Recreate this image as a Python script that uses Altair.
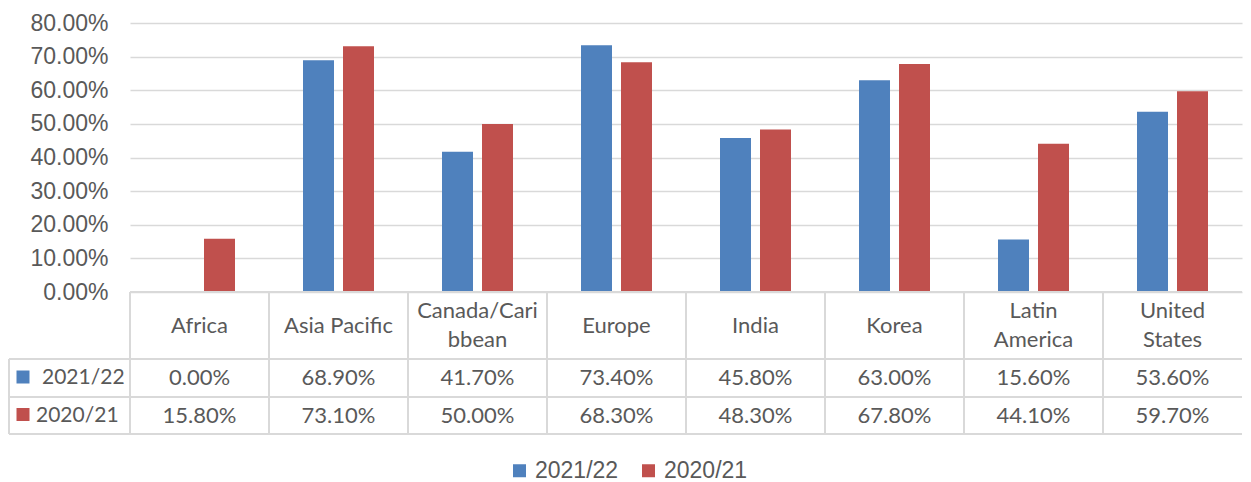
import altair as alt
import pandas as pd

categories = ["Africa", "Asia Pacific", "Canada/Caribbean", "Europe", "India",
              "Korea", "Latin America", "United States"]
header_labels = ["Africa", "Asia Pacific", "Canada/Cari\nbbean", "Europe", "India",
                 "Korea", "Latin\nAmerica", "United\nStates"]
series = ["2021/22", "2020/21"]
values_2122 = [0.00, 68.90, 41.70, 73.40, 45.80, 63.00, 15.60, 53.60]
values_2021 = [15.80, 73.10, 50.00, 68.30, 48.30, 67.80, 44.10, 59.70]
y_ticks = [0.0, 0.1, 0.2, 0.3, 0.4, 0.5, 0.6, 0.7, 0.8]
colors = ["#4F81BD", "#C0504D"]

TEXT = "#595959"
GRID = "#D9D9D9"
W = 1112
H = 411

rows = []
for s, vals in zip(series, [values_2122, values_2021]):
    for c, v in zip(categories, vals):
        rows.append({"category": c, "series": s, "value": v / 100.0,
                     "label": f"{v:.2f}%"})
df = pd.DataFrame(rows)
hdr = pd.DataFrame({"category": categories, "header": header_labels})
leg = pd.DataFrame({"series": series})

xscale = alt.Scale(domain=categories, paddingInner=0, paddingOuter=0)
yscale = alt.Scale(domain=[-0.4223, 0.8], nice=False, zero=False)
color = alt.Color("series:N", scale=alt.Scale(domain=series, range=colors),
                  legend=alt.Legend(title=None, orient="none", legendX=378, legendY=436,
                                    direction="horizontal", symbolType="square",
                                    symbolSize=169, symbolStrokeWidth=0,
                                    labelFont="Liberation Sans", labelFontSize=23,
                                    labelColor=TEXT, labelOffset=4, columnPadding=18,
                                    padding=0))
yaxis = alt.Axis(values=y_ticks, format=".2%", title=None, domain=False,
                 ticks=False, tickSize=0, labelPadding=22,
                 labelFont="Liberation Sans", labelFontSize=23,
                 labelColor=TEXT, grid=True, gridColor=GRID, gridWidth=1.5)

bar_layers = []
for s, off in zip(series, [-20, 20]):
    bar_layers.append(
        alt.Chart(df).transform_filter(alt.datum.series == s)
        .mark_bar(width=31, xOffset=off)
        .encode(
            x=alt.X("category:N", scale=xscale, axis=None),
            y=alt.Y("value:Q", scale=yscale, axis=yaxis),
            y2=alt.datum(0),
            color=color,
        ))

header_one = alt.Chart(hdr).transform_filter(
    "indexof(datum.header, '\\n') < 0"
).mark_text(font="Lato", fontSize=22, color=TEXT, baseline="middle").encode(
    x=alt.X("category:N", scale=xscale), y=alt.value(302.5), text="header:N")
header_two = alt.Chart(hdr).transform_filter(
    "indexof(datum.header, '\\n') >= 0"
).mark_text(font="Lato", fontSize=22, color=TEXT, lineBreak="\n", lineHeight=29,
            baseline="middle").encode(
    x=alt.X("category:N", scale=xscale), y=alt.value(288), text="header:N")

row_y = {"2021/22": 355, "2020/21": 392.5}
row_lbl_x = {"2021/22": -88, "2020/21": -94}
value_layers = []
for s in series:
    value_layers.append(
        alt.Chart(df).transform_filter(alt.datum.series == s)
        .mark_text(font="Lato", fontSize=22, color=TEXT, baseline="middle")
        .encode(x=alt.X("category:N", scale=xscale), y=alt.value(row_y[s]),
                text="label:N"))
    value_layers.append(
        alt.Chart(leg).transform_filter(alt.datum.series == s)
        .mark_text(font="Lato", fontSize=21, color=TEXT, baseline="middle", align="left")
        .encode(x=alt.value(row_lbl_x[s]), y=alt.value(row_y[s]), text="series:N"))
    value_layers.append(
        alt.Chart(leg).transform_filter(alt.datum.series == s)
        .mark_square(size=169, opacity=1)
        .encode(x=alt.value(-107), y=alt.value(row_y[s] - 1), color=color))

hlines = []
for x0, yy in [(0, 269), (-121, 336), (-121, 374), (-121, 411)]:
    hlines.append(alt.Chart(hdr).mark_rule(color=GRID, strokeWidth=2).encode(
        x=alt.value(x0), x2=alt.value(W), y=alt.value(yy)))

vlines = alt.Chart(hdr).mark_rule(color=GRID, strokeWidth=2).encode(
    x=alt.X("category:N", scale=xscale, bandPosition=0),
    y=alt.value(269), y2=alt.value(411))
vleft = alt.Chart(hdr).mark_rule(color=GRID, strokeWidth=2).encode(
    x=alt.value(-121), y=alt.value(336), y2=alt.value(411))

chart = alt.layer(
    *bar_layers, *hlines, vlines, vleft, header_one, header_two, *value_layers
).properties(
    width=W, height=H,
    padding={"left": 0, "top": 4, "right": 0, "bottom": 4},
).configure_view(stroke=None)

chart.save("out.html", embed_options={"renderer": "svg", "actions": False})
